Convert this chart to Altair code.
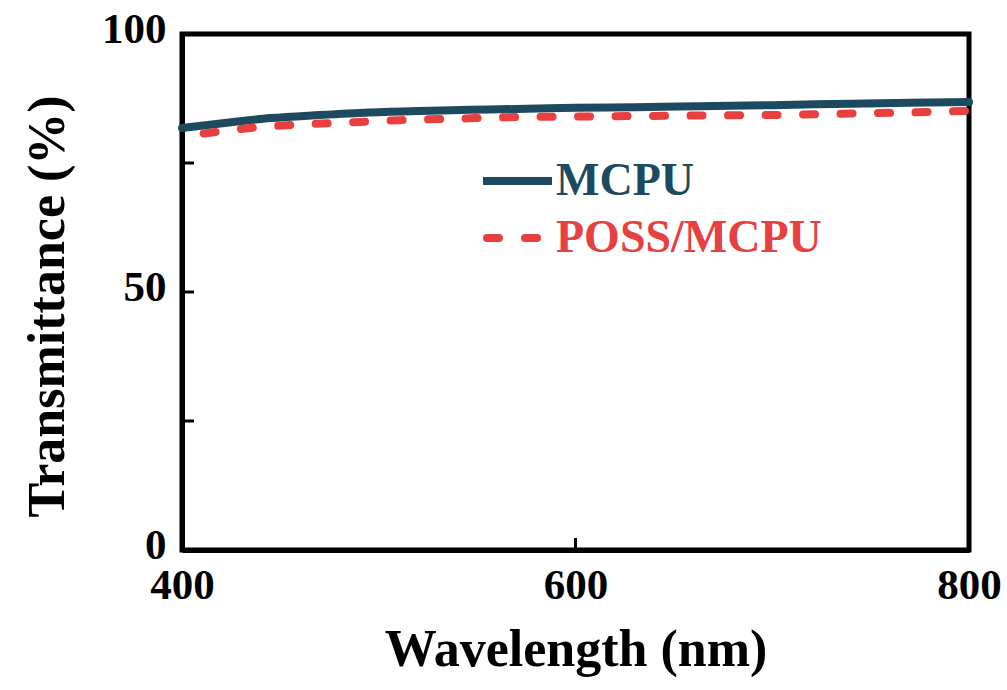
import altair as alt
import pandas as pd

# Data
mcpu_wl = [400, 425, 445, 470, 495, 520, 546, 575, 600, 630, 663, 700, 740, 770, 800]
mcpu_t = [81.8, 82.9, 83.7, 84.3, 84.8, 85.1, 85.3, 85.5, 85.7, 85.8, 86.0, 86.2, 86.5, 86.7, 86.8]
poss_wl = [411, 430, 449, 468, 487, 511, 540, 570, 600, 630, 663, 700, 740, 770, 800]
poss_t = [80.7, 81.6, 82.2, 82.6, 82.9, 83.3, 83.6, 83.9, 84.0, 84.1, 84.2, 84.3, 84.6, 84.8, 85.1]

y_ticks = [0, 50, 100]
y_minor = [25, 50, 75]
x_ticks = [400, 600, 800]
x_inner = [600]

series_names = ["MCPU", "POSS/MCPU"]
colors = ["#1d4a5e", "#e8403f"]

FONT = "Liberation Serif"

df_m = pd.DataFrame({"wl": mcpu_wl, "t": mcpu_t})
df_p = pd.DataFrame({"wl": poss_wl, "t": poss_t})

xs = alt.Scale(domain=[400, 800], nice=False, zero=False)
ys = alt.Scale(domain=[0, 100], nice=False)

x_axis = alt.Axis(values=x_ticks, title="Wavelength (nm)", ticks=False, tickSize=0,
                  grid=False, domainColor="black", domainWidth=5,
                  labelFont=FONT, labelFontSize=43, labelFontWeight="bold", labelColor="black",
                  labelPadding=14, labelFlush=False,
                  titleFont=FONT, titleFontSize=52, titleFontWeight="bold", titleColor="black",
                  titlePadding=17)
y_axis = alt.Axis(values=y_ticks, title="Transmittance (%)", ticks=False, tickSize=0,
                  grid=False, domainColor="black", domainWidth=5,
                  labelFont=FONT, labelFontSize=43, labelFontWeight="bold", labelColor="black",
                  labelPadding=16, labelFlush=False, labelOffset=-5,
                  titleFont=FONT, titleFontSize=52, titleFontWeight="bold", titleColor="black",
                  titlePadding=27, titleY=272)

line_m = alt.Chart(df_m).mark_line(color=colors[0], strokeWidth=8, strokeCap="round",
                                   interpolate="monotone").encode(
    x=alt.X("wl:Q", scale=xs, axis=x_axis),
    y=alt.Y("t:Q", scale=ys, axis=y_axis),
)
line_p = alt.Chart(df_p).mark_line(color=colors[1], strokeWidth=8, strokeCap="round",
                                   strokeDash=[12, 25.5], interpolate="monotone").encode(
    x=alt.X("wl:Q", scale=xs),
    y=alt.Y("t:Q", scale=ys),
)

yt = alt.Chart(pd.DataFrame({"v": y_minor})).mark_rule(color="black", strokeWidth=3).encode(
    y=alt.Y("v:Q", scale=ys),
    x=alt.value(0),
    x2=alt.value(12),
)
xt = alt.Chart(pd.DataFrame({"v": x_inner})).mark_rule(color="black", strokeWidth=3).encode(
    x=alt.X("v:Q", scale=xs),
    y=alt.value(516),
    y2=alt.value(504),
)

leg = pd.DataFrame({"name": series_names, "color": colors, "ypix": [147, 204]})
leg_line_m = alt.Chart(leg.iloc[[0]]).mark_rule(strokeWidth=8).encode(
    x=alt.value(301), x2=alt.value(370), y=alt.value(147),
    color=alt.Color("color:N", scale=None),
)
leg_line_p = alt.Chart(leg.iloc[[1]]).mark_rule(strokeWidth=8, strokeCap="round",
                                                 strokeDash=[12, 26]).encode(
    x=alt.value(305), x2=alt.value(370), y=alt.value(204),
    color=alt.Color("color:N", scale=None),
)
leg_text = alt.Chart(leg).mark_text(font=FONT, fontSize=46, fontWeight="bold",
                                    align="left", baseline="middle").encode(
    x=alt.value(374),
    y=alt.Y("ypix:Q", scale=None),
    text="name:N",
    color=alt.Color("color:N", scale=None),
)

chart = alt.layer(line_m, line_p, yt, xt, leg_line_m, leg_line_p, leg_text).properties(
    width=787, height=516,
    autosize=alt.AutoSizeParams(type="none"),
    padding={"left": 182, "top": 34, "right": 38, "bottom": 140},
    background="white",
).configure_view(stroke="black", strokeWidth=5)

chart.save("out.html", embed_options={"renderer": "svg", "actions": False})
